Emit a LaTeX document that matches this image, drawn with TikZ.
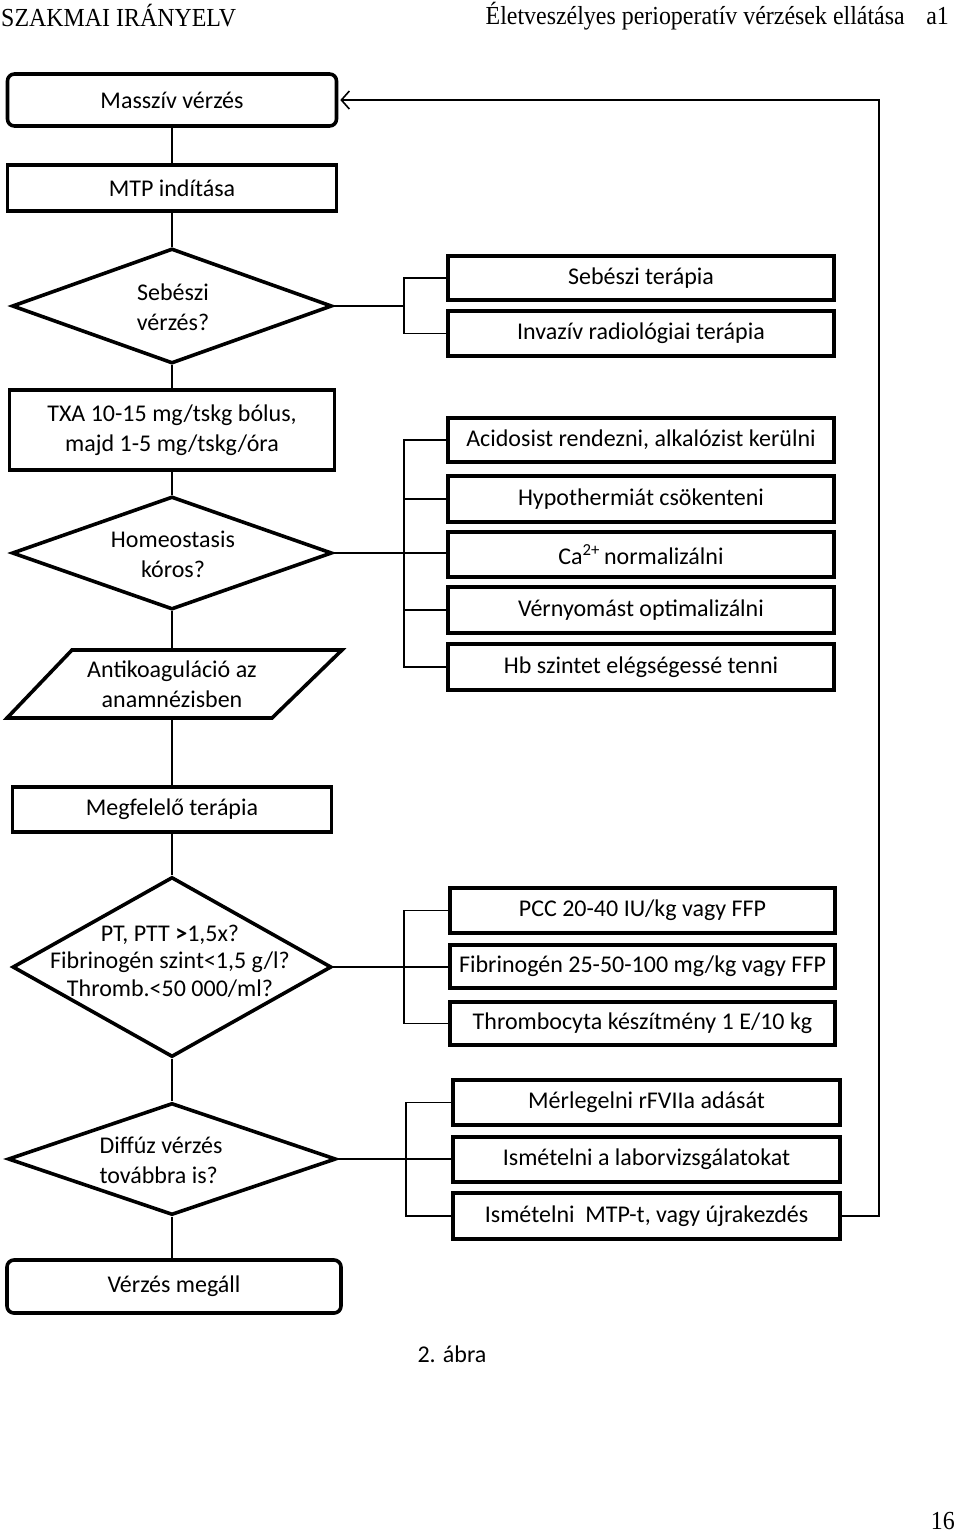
\documentclass[tikz,border=0pt]{standalone}
\usepackage{fontspec}
\setmainfont{Carlito}
\newfontfamily\timesf{Liberation Serif}
\usetikzlibrary{shapes.geometric,arrows.meta}
\begin{document}
\begin{tikzpicture}[x=1pt,y=-1pt,
  every node/.style={font=\fontsize{24}{30}\selectfont},
  sq/.style={draw, line width=3.6pt, inner sep=0pt, align=center},
  rbox/.style={sq, rounded corners=7pt},
  dia/.style={draw, diamond, line width=3.6pt, inner sep=0pt},
  lbl/.style={align=center, inner sep=0pt},
  conn/.style={line width=1.4pt},
  hdr/.style={inner sep=0pt, font=\timesf\fontsize{26}{30}\selectfont}
]
\useasboundingbox (0,0) rectangle (960,1534);

% header
\node[hdr, anchor=west] (hl) at (1,16) {\scalebox{0.92}[1]{SZAKMAI IRÁNYELV}};
\node[hdr, anchor=east] (hr) at (949,16) {\scalebox{0.92}[1]{Életveszélyes perioperatív vérzések ellátása\hspace{0.9em}a1}};

% left column
\node[rbox, minimum width=329pt, minimum height=52pt] (m1) at (172,100) {Masszív vérzés};
\node[sq, minimum width=329pt, minimum height=46pt] (m2) at (172,188) {MTP indítása};
\node[dia, minimum width=320pt, minimum height=115pt] (d1) at (172,306) {};
\node[lbl] (d1t) at (173,307) {Sebészi\\vérzés?};
\node[sq, minimum width=325pt, minimum height=80pt] (txa) at (172,430) {TXA 10-15 mg/tskg bólus,\\majd 1-5 mg/tskg/óra};
\node[dia, minimum width=320pt, minimum height=113pt] (d2) at (172,553) {};
\node[lbl] (d2t) at (173,554) {Homeostasis\\kóros?};
\draw[line width=3.6pt, line join=miter] (72,650) -- (342,650) -- (272,718) -- (7,718) -- cycle;
\node[lbl, minimum height=68pt] (ak) at (172,684) {Antikoaguláció az\\anamnézisben};
\node[sq, minimum width=319pt, minimum height=45pt] (mt) at (172,809.5) {Megfelelő terápia};
\node[dia, minimum width=319pt, minimum height=180pt] (d3) at (172,967) {};
\node[lbl, font=\fontsize{24}{27.5}\selectfont] (d3t) at (170,961) {PT, PTT \textbf{>}1,5x?\\Fibrinogén szint<1,5 g/l?\\Thromb.<50 000/ml?};
\node[dia, minimum width=328pt, minimum height=112pt] (d4) at (172,1159) {};
\node[lbl, align=left] (d4t) at (161,1160) {Diffúz vérzés\\továbbra is?};
\node[rbox, minimum width=334pt, minimum height=53pt] (vm) at (174,1286.5) {Vérzés megáll};

% right column
\node[sq, minimum width=386pt, minimum height=44pt] (s1) at (641,278) {Sebészi terápia};
\node[sq, minimum width=386pt, minimum height=45pt] (s2) at (641,333.5) {Invazív radiológiai terápia};

\node[sq, minimum width=386pt, minimum height=44pt] (h1) at (641,440) {Acidosist rendezni, alkalózist kerülni};
\node[sq, minimum width=386pt, minimum height=46pt] (h2) at (641,499) {Hypothermiát csökenteni};
\node[sq, minimum width=386pt, minimum height=45pt] (h3) at (641,554.5) {Ca\textsuperscript{2+}\,normalizálni};
\node[sq, minimum width=386pt, minimum height=46pt] (h4) at (641,610) {Vérnyomást optimalizálni};
\node[sq, minimum width=386pt, minimum height=46pt] (h5) at (641,667) {Hb szintet elégségessé tenni};

\node[sq, minimum width=385pt, minimum height=45pt] (p1) at (642.5,910.5) {PCC 20-40 IU/kg vagy FFP};
\node[sq, minimum width=385pt, minimum height=43pt] (p2) at (642.5,966.5) {Fibrinogén 25-50-100 mg/kg vagy FFP};
\node[sq, minimum width=385pt, minimum height=43pt] (p3) at (642.5,1023.5) {Thrombocyta készítmény 1 E/10 kg};

\node[sq, minimum width=387pt, minimum height=45pt] (r1) at (646.5,1102.5) {Mérlegelni rFVIIa adását};
\node[sq, minimum width=387pt, minimum height=45pt] (r2) at (646.5,1159.5) {Ismételni a laborvizsgálatokat};
\node[sq, minimum width=387pt, minimum height=46pt] (r3) at (646.5,1216) {Ismételni\ \ MTP-t, vagy újrakezdés};

% captions
\node[lbl] (cap) at (452,1354) {2. ábra};
\node[hdr, anchor=south east] (pg) at (955,1530) {\scalebox{0.92}[1]{16}};

% vertical connectors
\draw[conn] (m1) -- (m2);
\draw[conn] (m2) -- (d1);
\draw[conn] (d1) -- (txa);
\draw[conn] (txa) -- (d2);
\draw[conn] (d2.south) -- (ak.north);
\draw[conn] (ak.south) -- (mt.north);
\draw[conn] (mt) -- (d3);
\draw[conn] (d3) -- (d4);
\draw[conn] (d4.south) -- (d4.south |- vm.north);

% brackets
\coordinate (b1) at (404,306);
\draw[conn] (d1.east) -- (b1);
\draw[conn] (s1.west) -- (s1.west -| b1) -- (s2.west -| b1) -- (s2.west);

\coordinate (b2) at (404,553);
\draw[conn] (d2.east) -- (h3.west |- d2.east);
\draw[conn] (h1.west) -- (h1.west -| b2) -- (h5.west -| b2) -- (h5.west);
\draw[conn] (h2.west -| b2) -- (h2.west);
\draw[conn] (h4.west -| b2) -- (h4.west);

\coordinate (b3) at (404,967);
\draw[conn] (d3.east) -- (p2.west |- d3.east);
\draw[conn] (p1.west) -- (p1.west -| b3) -- (p3.west -| b3) -- (p3.west);

\coordinate (b4) at (406,1159);
\draw[conn] (d4.east) -- (r2.west |- d4.east);
\draw[conn] (r1.west) -- (r1.west -| b4) -- (r3.west -| b4) -- (r3.west);

% feedback loop
\coordinate (fb) at (879,100);
\draw[conn, -{Straight Barb[length=8pt,width=18pt,line width=1.6pt]}, shorten >=2pt]
  (r3.east) -- (r3.east -| fb) -- (fb) -- (m1.east);
\end{tikzpicture}
\end{document}
